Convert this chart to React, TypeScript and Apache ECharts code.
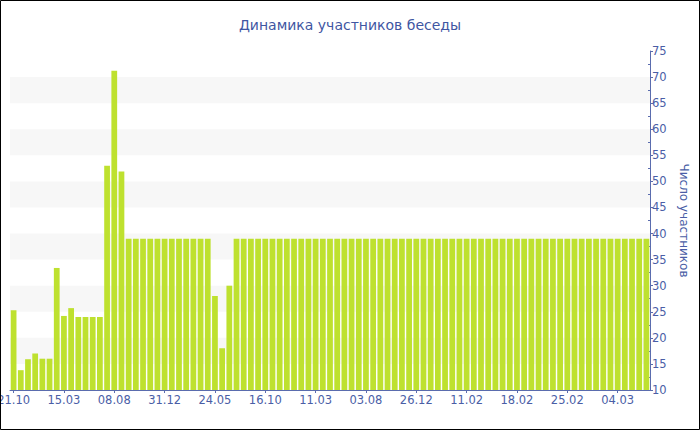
import React, { useEffect, useRef } from "react";
import * as echarts from "echarts";

const categories: string[] = [
  "21.10", "11.11", "02.12", "23.12", "13.01", "03.02", "24.02",
  "15.03", "05.04", "26.04", "17.05", "07.06", "28.06", "19.07",
  "08.08", "29.08", "19.09", "10.10", "31.10", "21.11", "12.12",
  "31.12", "21.01", "11.02", "04.03", "25.03", "15.04", "06.05",
  "24.05", "14.06", "05.07", "26.07", "16.08", "06.09", "27.09",
  "16.10", "06.11", "27.11", "18.12", "08.01", "29.01", "19.02",
  "11.03", "01.04", "22.04", "13.05", "03.06", "24.06", "15.07",
  "03.08", "24.08", "14.09", "05.10", "26.10", "16.11", "07.12",
  "26.12", "02.01", "09.01", "16.01", "23.01", "30.01", "06.02",
  "11.02", "12.02", "13.02", "14.02", "15.02", "16.02", "17.02",
  "18.02", "19.02", "20.02", "21.02", "22.02", "23.02", "24.02",
  "25.02", "26.02", "27.02", "28.02", "01.03", "02.03", "03.03",
  "04.03", "05.03", "06.03", "07.03", "08.03",
];

const participants: number[] = [
  25.3, 13.8, 15.9, 17, 16, 16, 33.4,
  24.2, 25.7, 24, 24, 24, 24, 53,
  71.2, 51.9, 39, 39, 39, 39, 39,
  39, 39, 39, 39, 39, 39, 39,
  28, 18, 30, 39, 39, 39, 39,
  39, 39, 39, 39, 39, 39, 39,
  39, 39, 39, 39, 39, 39, 39,
  39, 39, 39, 39, 39, 39, 39,
  39, 39, 39, 39, 39, 39, 39,
  39, 39, 39, 39, 39, 39, 39,
  39, 39, 39, 39, 39, 39, 39,
  39, 39, 39, 39, 39, 39, 39,
  39, 39, 39, 39, 39,
];

const TITLE = "Динамика участников беседы";
const Y_NAME = "Число участников";
const Y_MIN = 10;
const Y_MAX = 75;
const Y_STEP = 5;

const BLUE = "#4a5ea6";
const AXIS = "#5a6cae";
const FONT = "DejaVu Sans";

export default function App() {
  const ref = useRef<HTMLDivElement>(null);
  useEffect(() => {
    if (!ref.current) return;
    const chart = echarts.init(ref.current, null, { renderer: "svg" });
    chart.setOption({
      animation: false,
      backgroundColor: "#ffffff",
      title: {
        text: TITLE,
        left: "center",
        top: 13,
        textStyle: { color: "#3f56a2", fontFamily: FONT, fontSize: 14, fontWeight: "normal" },
      },
      grid: { left: 10, right: 50, top: 51, bottom: 40, containLabel: false, outerBoundsMode: "none" },
      xAxis: {
        type: "category",
        data: categories,
        boundaryGap: true,
        axisLine: { show: true, lineStyle: { color: AXIS, width: 1 } },
        axisTick: { show: true, alignWithLabel: true, interval: 6, length: 3, lineStyle: { color: AXIS } },
        axisLabel: { interval: 6, color: BLUE, fontFamily: FONT, fontSize: 11.5, margin: 4, hideOverlap: false },
        splitLine: { show: false },
      },
      yAxis: [
        {
          type: "value",
          position: "right",
          min: Y_MIN,
          max: Y_MAX,
          interval: Y_STEP,
          name: Y_NAME,
          nameLocation: "middle",
          nameRotate: -90,
          nameGap: 26,
          nameTextStyle: { color: BLUE, fontFamily: FONT, fontSize: 12 },
          axisLine: { show: true, lineStyle: { color: AXIS, width: 1 } },
          axisTick: { show: true, length: 3, lineStyle: { color: AXIS } },
          axisLabel: { color: BLUE, fontFamily: FONT, fontSize: 11.5, margin: 2 },
          splitLine: { show: false },
          splitArea: { show: true, areaStyle: { color: ["rgba(255,255,255,0)", "#f7f7f7"] } },
        },
        {
          type: "value",
          position: "right",
          min: Y_MIN,
          max: Y_MAX,
          interval: Y_STEP,
          axisLine: { show: false },
          axisTick: { show: false, inside: true },
          minorTick: { show: true, splitNumber: 2, length: 2, lineStyle: { color: AXIS } },
          axisLabel: { show: false },
          splitLine: { show: false },
        },
      ],
      series: [
        {
          type: "bar",
          data: participants,
          barCategoryGap: "20%",
          itemStyle: { color: "#bee12f" },
        },
      ],
      graphic: [
        {
          type: "rect",
          shape: { x: 0.5, y: 0.5, width: 699, height: 429 },
          style: { fill: "none", stroke: "#000000", lineWidth: 1 },
          z: 100,
        },
      ],
    });
    return () => chart.dispose();
  }, []);
  return (
    <div style={{ position: "fixed", left: 0, top: 0, width: 700, height: 430 }}>
      <div ref={ref} style={{ width: 700, height: 430 }} />
    </div>
  );
}
